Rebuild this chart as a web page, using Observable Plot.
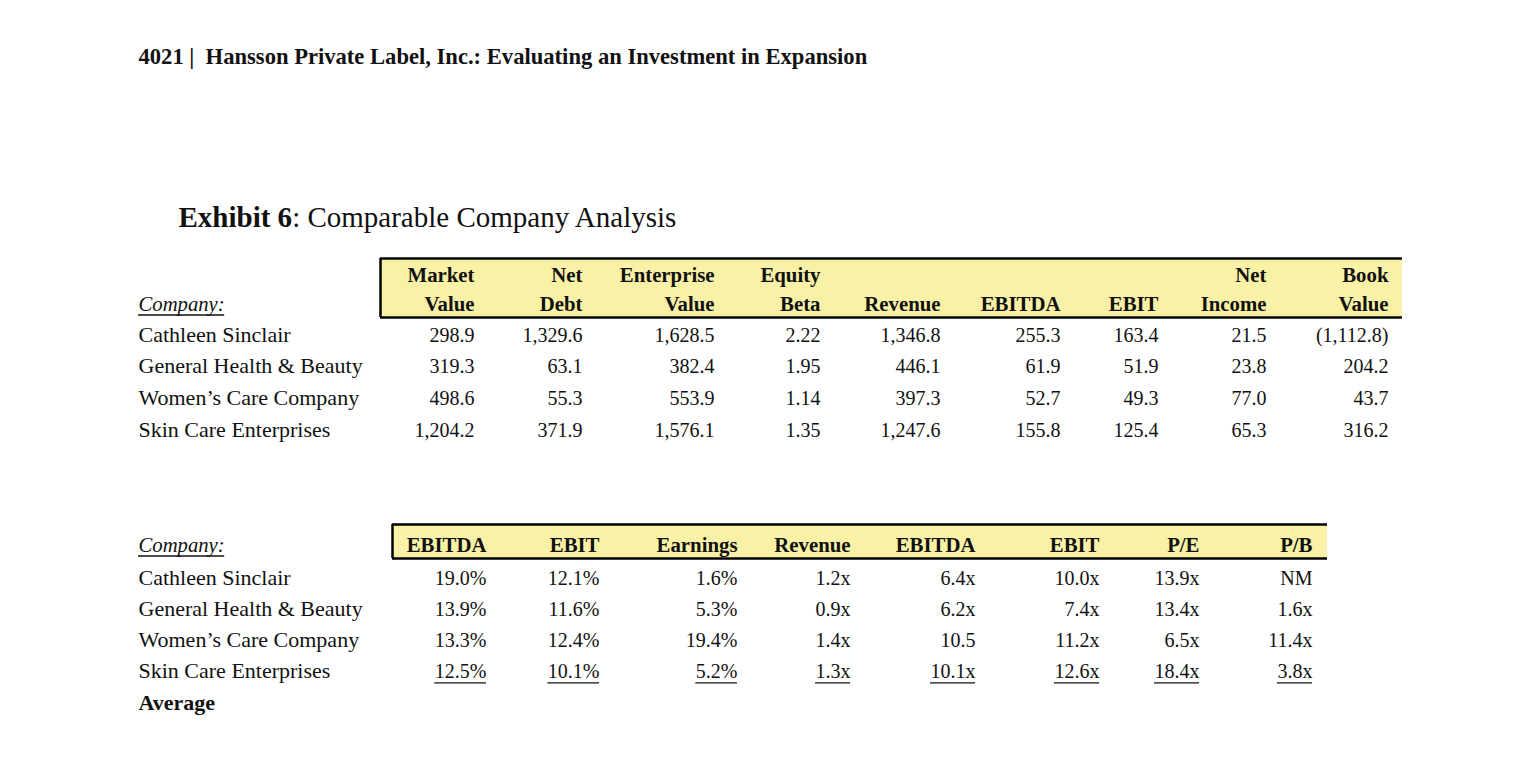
<!DOCTYPE html>
<html>
<head>
<meta charset="utf-8">
<script src="https://cdn.jsdelivr.net/npm/d3@7"></script>
<script src="https://cdn.jsdelivr.net/npm/@observablehq/plot@0.6"></script>
<style>
  html, body { margin: 0; padding: 0; background: #fff; }
</style>
</head>
<body>
<div id="chart"></div>
<script>
// ---------- DATA ----------
const pageTitle = "4021 |  Hansson Private Label, Inc.: Evaluating an Investment in Expansion";
const exhibitBold = "Exhibit 6";
const exhibitRest = ": Comparable Company Analysis";

const companies = ["Cathleen Sinclair", "General Health & Beauty", "Women\u2019s Care Company", "Skin Care Enterprises"];

// Table 1 headers
const topHeader1 = ["Market", "Net", "Enterprise", "Equity", "", "", "", "Net", "Book"];
const topHeader2 = ["Value", "Debt", "Value", "Beta", "Revenue", "EBITDA", "EBIT", "Income", "Value"];

// Table 1 values
const marketValue     = [298.9, 319.3, 498.6, 1204.2];
const netDebt         = [1329.6, 63.1, 55.3, 371.9];
const enterpriseValue = [1628.5, 382.4, 553.9, 1576.1];
const equityBeta      = [2.22, 1.95, 1.14, 1.35];
const revenue         = [1346.8, 446.1, 397.3, 1247.6];
const ebitda          = [255.3, 61.9, 52.7, 155.8];
const ebit            = [163.4, 51.9, 49.3, 125.4];
const netIncome       = [21.5, 23.8, 77.0, 65.3];
const bookValue       = [-1112.8, 204.2, 43.7, 316.2];

// Table 2 headers
const bottomHeader = ["EBITDA", "EBIT", "Earnings", "Revenue", "EBITDA", "EBIT", "P/E", "P/B"];

// Table 2 values (margins in %, multiples in x)
const ebitdaMargin   = [19.0, 13.9, 13.3, 12.5];
const ebitMargin     = [12.1, 11.6, 12.4, 10.1];
const earningsMargin = [1.6, 5.3, 19.4, 5.2];
const revenueMultiple = [1.2, 0.9, 1.4, 1.3];
const ebitdaMultiple  = [6.4, 6.2, 10.5, 10.1];
const ebitdaMultipleSuffix = ["x", "x", "", "x"]; // as printed in the source
const ebitMultiple    = [10.0, 7.4, 11.2, 12.6];
const peMultiple      = [13.9, 13.4, 6.5, 18.4];
const pbMultiple      = [null, 1.6, 11.4, 3.8]; // null = "NM"
const averageLabel = "Average";
const companyLabel = "Company:";

// ---------- LAYOUT ----------
const W = 1524, H = 764;
const FONT = "Liberation Serif";
const L = {
  left: 138,
  titleX: 138, titleY: 63,
  exhibitX: 178, exhibitY: 226,
  top: {
    cols: [474, 582, 714, 820, 940, 1060, 1158, 1266, 1388],
    h1: 281, h2: 310, row0: 341, step: 31.7,
    box: {x1: 380, x2: 1402, y1: 258, y2: 317}
  },
  bot: {
    cols: [486, 599, 737, 850, 975, 1099, 1199, 1312],
    h: 551, row0: 584, step: 31.3,
    box: {x1: 392, x2: 1327, y1: 524, y2: 558}
  }
};
const SIZE = {title: 22.6, exhibit: 29, name: 22, header: 20.8, value: 20, company: 20.7, average: 22};

// ---------- FORMATS ----------
const f1 = d3.format(",.1f");
const acct = v => v < 0 ? `(${f1(-v)})` : f1(v);
const beta = d3.format(".2f");
const pct = v => d3.format(".1f")(v) + "%";
const mult = (v, s = "x") => v == null ? "NM" : d3.format(".1f")(v) + s;

// text measurement for underlines
const ctx = document.createElement("canvas").getContext("2d");
const measure = (t, size, extra = "") => { ctx.font = `${extra} ${size}px "${FONT}"`; return ctx.measureText(t).width; };
const underlines = (cells, anchor, size, extra, off = 4.5) => cells.map(d => {
  const w = measure(d.text, size, extra);
  return anchor === "end" ? {x1: d.x - w, x2: d.x, y: d.y + off} : {x1: d.x, x2: d.x + w, y: d.y + off};
});

// ---------- CELLS ----------
const topSeries = [marketValue, netDebt, enterpriseValue, equityBeta, revenue, ebitda, ebit, netIncome, bookValue];
const topCells = [];
topSeries.forEach((s, c) => s.forEach((v, r) => topCells.push({
  x: L.top.cols[c], y: L.top.row0 + r * L.top.step,
  text: c === 3 ? beta(v) : acct(v)
})));

const botSeries = [
  ebitdaMargin.map(pct), ebitMargin.map(pct), earningsMargin.map(pct),
  revenueMultiple.map(v => mult(v)), ebitdaMultiple.map((v, i) => mult(v, ebitdaMultipleSuffix[i])),
  ebitMultiple.map(v => mult(v)), peMultiple.map(v => mult(v)), pbMultiple.map(v => mult(v))
];
const botCells = [];
botSeries.forEach((s, c) => s.forEach((t, r) => {
  botCells.push({x: L.bot.cols[c], y: L.bot.row0 + r * L.bot.step, text: t, last: r === s.length - 1});
}));

const topHeadCells = [
  ...topHeader1.map((t, i) => ({x: L.top.cols[i], y: L.top.h1, text: t})),
  ...topHeader2.map((t, i) => ({x: L.top.cols[i], y: L.top.h2, text: t}))
].filter(d => d.text);
const botHeadCells = bottomHeader.map((t, i) => ({x: L.bot.cols[i], y: L.bot.h, text: t}));

const topNames = companies.map((t, r) => ({x: L.left, y: L.top.row0 + r * L.top.step, text: t}));
const botNames = companies.map((t, r) => ({x: L.left, y: L.bot.row0 + r * L.bot.step, text: t}));
const avgCell = [{x: L.left, y: L.bot.row0 + companies.length * L.bot.step, text: averageLabel}];
const companyCells = [{x: L.left, y: L.top.h2, text: companyLabel}, {x: L.left, y: L.bot.h, text: companyLabel}];

const boxes = [L.top.box, L.bot.box];
const hRules = boxes.flatMap(b => [{x1: b.x1, x2: b.x2, y: b.y1}, {x1: b.x1, x2: b.x2, y: b.y2}]);
const vRules = boxes.map(b => ({x: b.x1, y1: b.y1, y2: b.y2}));

const ulRules = [
  ...underlines(companyCells, "start", SIZE.company, "italic", 4.5),
  ...underlines(botCells.filter(d => d.last), "end", SIZE.value, "", 4.5)
];

const txt = (data, opts) => Plot.text(data, {x: "x", y: "y", text: "text", lineAnchor: "bottom", fill: "#111", ...opts});

const chart = Plot.plot({
  width: W, height: H, margin: 0,
  x: {domain: [0, W], range: [0, W], axis: null},
  y: {domain: [0, H], range: [0, H], axis: null},
  style: {fontFamily: FONT, fontSize: "20px", background: "#fff", color: "#111"},
  marks: [
    Plot.rect(boxes, {x1: "x1", x2: "x2", y1: "y1", y2: "y2", fill: "#F9F2A6"}),
    Plot.ruleY(hRules, {x1: "x1", x2: "x2", y: "y", stroke: "#000", strokeWidth: 2.5}),
    Plot.ruleX(vRules, {x: "x", y1: "y1", y2: "y2", stroke: "#000", strokeWidth: 2.5}),
    // page title
    txt([{x: L.titleX, y: L.titleY, text: pageTitle}], {textAnchor: "start", fontWeight: "bold", fontSize: SIZE.title}),
    // exhibit title
    Plot.text([0], {x: L.exhibitX, y: L.exhibitY, text: d => exhibitBold, lineAnchor: "bottom", textAnchor: "start", fontSize: SIZE.exhibit, fontWeight: "bold", fill: "#111",
      render(index, scales, values, dims, context, next) {
        const g = next(index, scales, values, dims, context);
        const t = g.querySelector("text");
        const s = document.createElementNS("http://www.w3.org/2000/svg", "tspan");
        s.setAttribute("font-weight", "normal");
        s.textContent = exhibitRest;
        t.appendChild(s);
        return g;
      }}),
    // Company: labels
    txt(companyCells, {textAnchor: "start", fontStyle: "italic", fontSize: SIZE.company}),
    // headers
    txt(topHeadCells, {textAnchor: "end", fontWeight: "bold", fontSize: SIZE.header}),
    txt(botHeadCells, {textAnchor: "end", fontWeight: "bold", fontSize: SIZE.header}),
    // company names
    txt(topNames, {textAnchor: "start", fontSize: SIZE.name}),
    txt(botNames, {textAnchor: "start", fontSize: SIZE.name}),
    txt(avgCell, {textAnchor: "start", fontWeight: "bold", fontSize: SIZE.average}),
    // values
    txt(topCells, {textAnchor: "end", fontSize: SIZE.value}),
    txt(botCells, {textAnchor: "end", fontSize: SIZE.value}),
    // underlines
    Plot.ruleY(ulRules, {x1: "x1", x2: "x2", y: "y", stroke: "#111", strokeWidth: 1.3})
  ]
});
document.getElementById("chart").appendChild(chart);
</script>
</body>
</html>
